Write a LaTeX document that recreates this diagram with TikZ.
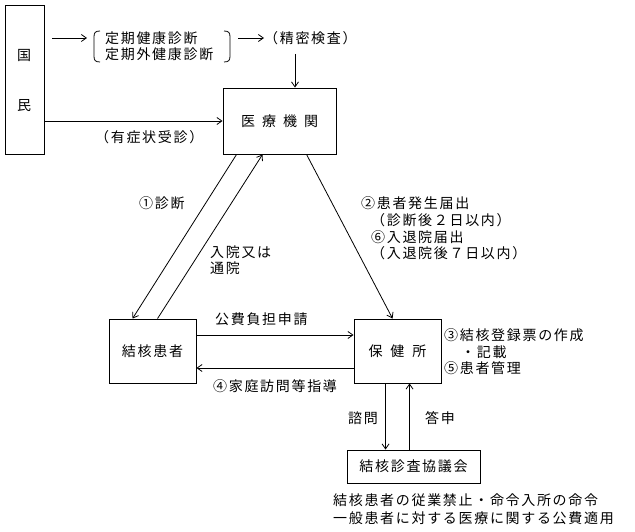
\documentclass[tikz,border=0pt]{standalone}
\usepackage{fontspec}
\setmainfont{Noto Sans CJK JP}[LetterSpace=12]
\usetikzlibrary{arrows.meta}
\begin{document}
\begin{tikzpicture}[x=1pt,y=-1pt,
  every node/.style={font=\fontsize{14}{16}\selectfont},
  box/.style={draw,line width=0.9pt,inner sep=0pt},
  lbl/.style={inner sep=0pt,anchor=west},
  arr/.style={line width=0.8pt,-{Straight Barb[length=5pt,width=7pt]}},
  ln/.style={line width=0.8pt}]
\useasboundingbox (0,0) rectangle (635,532);
% boxes
\node[box,minimum width=39pt,minimum height=149pt] (kokumin) at (24.5,79.5) {};
\node[inner sep=0pt] (koku) at (24,55) {国};
\node[inner sep=0pt] (min) at (24,106) {民};
\node[box,minimum width=113pt,minimum height=66pt] (iryo) at (279.5,121) {医\hspace{7pt}療\hspace{7pt}機\hspace{7pt}関};
\node[box,minimum width=87pt,minimum height=64pt] (kanja) at (152.5,351) {結核患者};
\node[box,minimum width=87pt,minimum height=64pt] (hoken) at (397.5,351) {保\hspace{8pt}健\hspace{8pt}所};
\node[box,minimum width=133pt,minimum height=33pt] (kyogi) at (413.5,466.5) {結核診査協議会};
% top row
\node[lbl] (teiki1) at (105,38) {定期健康診断};
\node[lbl] (teiki2) at (105,54) {定期外健康診断};
\draw[ln] (100,31) .. controls (95,31) and (94,33) .. (94,37) -- (94,56) .. controls (94,60) and (95,62) .. (100,62);
\draw[ln] (224,31) .. controls (229,31) and (230,33) .. (230,37) -- (230,56) .. controls (230,60) and (229,62) .. (224,62);
\coordinate (a1s) at (52,38);
\coordinate (a1e) at (87,38);
\draw[arr] (a1s) -- (a1e);
\coordinate (a2s) at (238,38);
\coordinate (a2e) at (264,38);
\draw[arr] (a2s) -- (a2e);
\node[lbl] (seimitsu) at (264,38) {（精密検査）};
\coordinate (a3s) at (295,54);
\draw[arr] (a3s) -- ([xshift=15.5pt]iryo.north);
\draw[arr] (kokumin.east |- iryo.west) -- (iryo.west);
\node[lbl] (yusho) at (95,137) {（有症状受診）};
% diagonals
\draw[arr] ([xshift=14pt]iryo.south west) -- ([xshift=24pt]kanja.north west);
\draw[arr] ([xshift=49pt]kanja.north west) -- ([xshift=40pt]iryo.south west);
\draw[arr] ([xshift=84pt]iryo.south west) -- ([xshift=39pt]hoken.north west);
\node[lbl] (shindan) at (139,203) {①診断};
\node[lbl] (nyuin1) at (210,252) {入院又は};
\node[lbl] (nyuin2) at (210,268) {通院};
\node[lbl] (todoke1) at (361,203) {②患者発生届出};
\node[lbl] (todoke2) at (371,220) {（診断後２日以内）};
\node[lbl] (todoke3) at (371,237) {⑥入退院届出};
\node[lbl] (todoke4) at (371,253) {（入退院後７日以内）};
% horizontal
\draw[arr] ([yshift=16pt]kanja.east) -- ([yshift=16pt]hoken.west);
\draw[arr] ([yshift=-17pt]hoken.west) -- ([yshift=-17pt]kanja.east);
\node[lbl] (kohi) at (215,319) {公費負担申請};
\node[lbl] (homon) at (213,386) {④家庭訪問等指導};
\node[lbl] (toroku1) at (444,335) {③結核登録票の作成};
\node[lbl] (toroku2) at (461,352) {・記載};
\node[lbl] (kanri) at (444,368) {⑤患者管理};
% vertical
\draw[arr] ([xshift=32pt]hoken.south west) -- ([xshift=39pt]kyogi.north west);
\draw[arr] ([xshift=63pt]kyogi.north west) -- ([xshift=56pt]hoken.south west);
\node[lbl] (shimon) at (348,418) {諮問};
\node[lbl] (toshin) at (425,418) {答申};
\node[lbl] (bottom1) at (333,500) {結核患者の従業禁止・命令入所の命令};
\node[lbl] (bottom2) at (333,518) {一般患者に対する医療に関する公費適用};
\end{tikzpicture}
\end{document}
